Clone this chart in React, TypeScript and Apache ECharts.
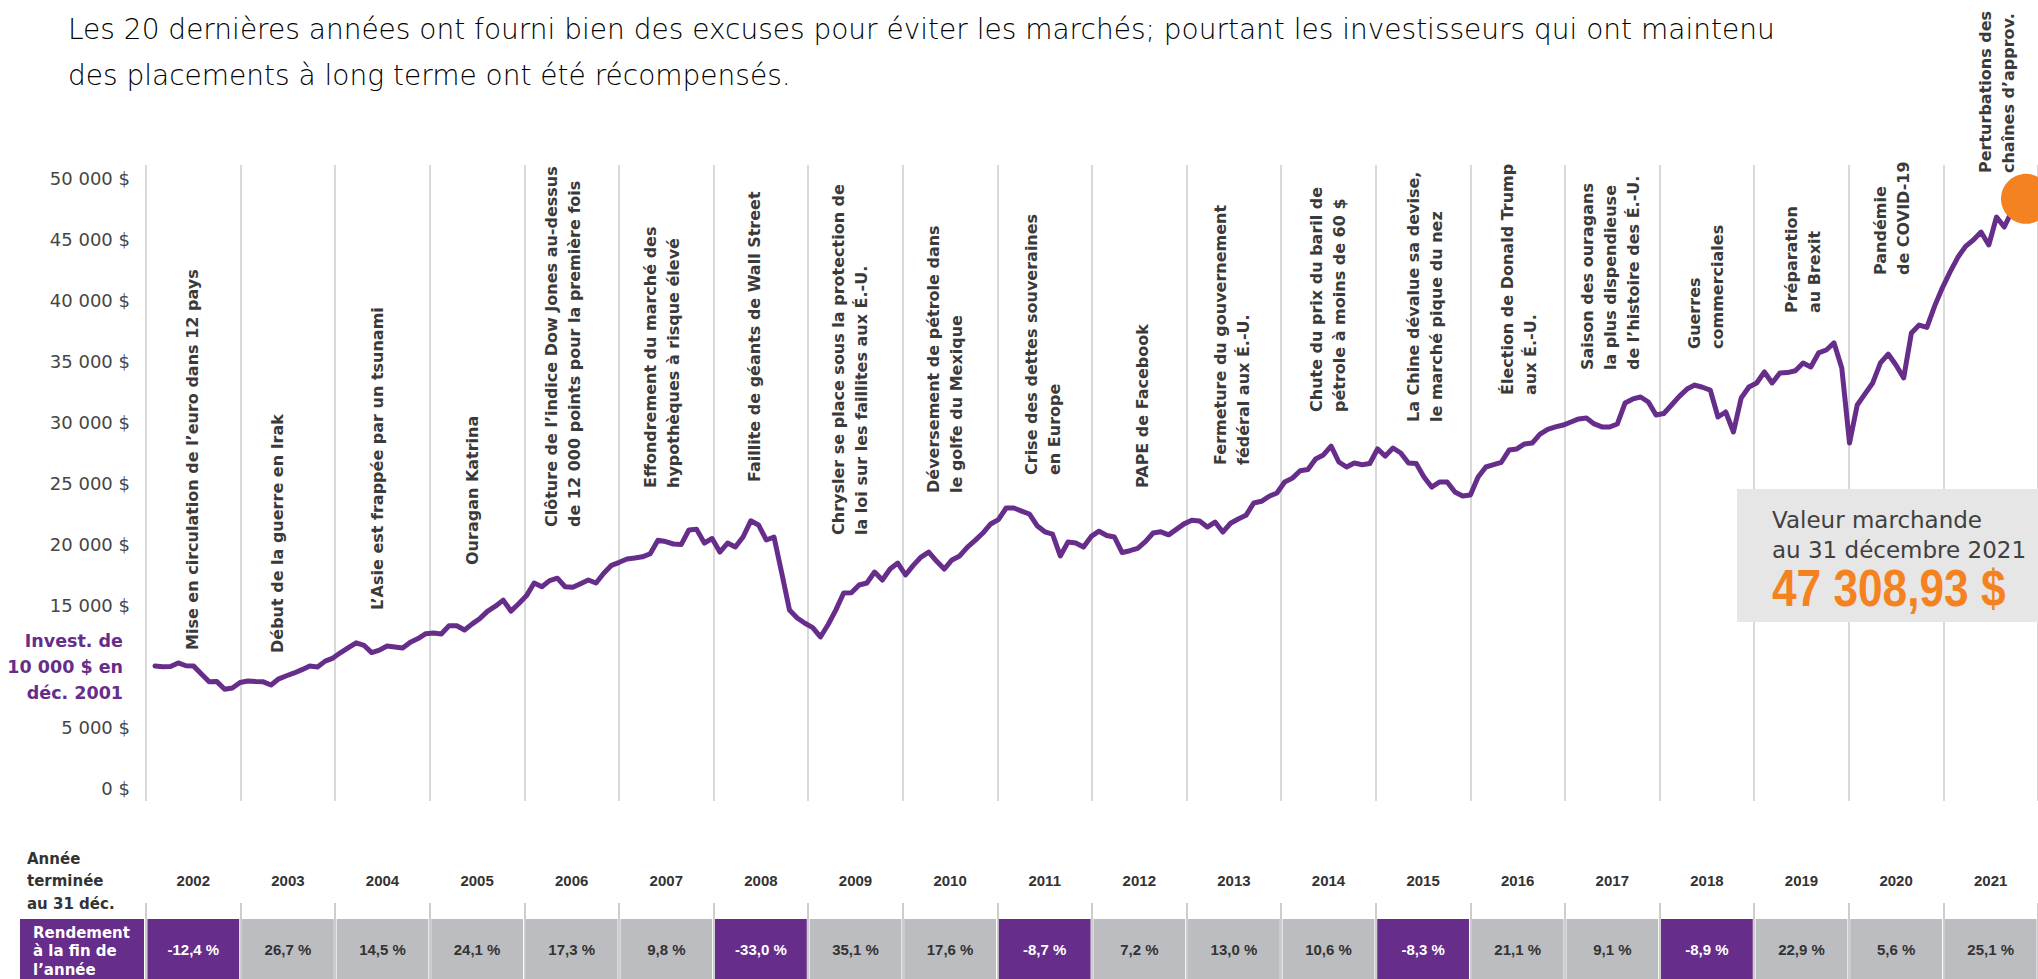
import React, { useEffect, useRef } from "react";
import * as echarts from "echarts";

// ---------- DATA ----------
const titleLines = [
  "Les 20 dernières années ont fourni bien des excuses pour éviter les marchés; pourtant les investisseurs qui ont maintenu",
  "des placements à long terme ont été récompensés.",
];

const years = [
  "2002", "2003", "2004", "2005", "2006", "2007", "2008", "2009", "2010", "2011",
  "2012", "2013", "2014", "2015", "2016", "2017", "2018", "2019", "2020", "2021",
];

const annualReturns = [
  -12.4, 26.7, 14.5, 24.1, 17.3, 9.8, -33.0, 35.1, 17.6, -8.7,
  7.2, 13.0, 10.6, -8.3, 21.1, 9.1, -8.9, 22.9, 5.6, 25.1,
];

const monthNames = ["janv.", "févr.", "mars", "avr.", "mai", "juin", "juil.", "août", "sept.", "oct.", "nov.", "déc."];

const startValue = 10000; // déc. 2001
const v2002 = [9930, 9950, 10250, 10020, 9990, 9350, 8700, 8720, 8100, 8200, 8650, 8770];
const v2003 = [8720, 8700, 8440, 8950, 9200, 9430, 9700, 10000, 9920, 10400, 10650, 11100];
const v2004 = [11500, 11900, 11700, 11100, 11300, 11640, 11550, 11470, 11950, 12250, 12650, 12700];
const v2005 = [12630, 13300, 13300, 12950, 13450, 13900, 14500, 14900, 15400, 14500, 15100, 15750];
const v2006 = [16800, 16500, 17000, 17200, 16500, 16450, 16750, 17050, 16800, 17600, 18250, 18500];
const v2007 = [18770, 18850, 18950, 19200, 20300, 20200, 20000, 19950, 21150, 21200, 20080, 20450];
const v2008 = [19340, 20080, 19750, 20570, 21900, 21560, 20330, 20570, 17620, 14590, 13930, 13500];
const v2009 = [13150, 12380, 13400, 14600, 15980, 16000, 16640, 16800, 17700, 17050, 17950, 18440];
const v2010 = [17460, 18250, 18930, 19340, 18600, 17950, 18690, 19020, 19750, 20300, 20900, 21640];
const v2011 = [22000, 22950, 22950, 22700, 22460, 21500, 21000, 20800, 19020, 20160, 20080, 19750];
const v2012 = [20620, 21050, 20700, 20570, 19300, 19450, 19650, 20200, 20900, 21000, 20750, 21200];
const v2013 = [21650, 21950, 21890, 21390, 21800, 20980, 21700, 22050, 22350, 23360, 23500, 23914];
const v2014 = [24180, 25080, 25400, 26000, 26100, 26970, 27300, 28030, 26720, 26310, 26640, 26500];
const v2015 = [26600, 27790, 27210, 27870, 27460, 26640, 26600, 25500, 24670, 25080, 25080, 24260];
const v2016 = [23930, 24020, 25490, 26310, 26500, 26700, 27700, 27790, 28200, 28280, 29000, 29400];
const v2017 = [29600, 29750, 30000, 30250, 30330, 29840, 29600, 29590, 29840, 31560, 31890, 32050];
const v2018 = [31640, 30570, 30700, 31390, 32100, 32700, 33030, 32850, 32620, 30410, 30820, 29180];
const v2019 = [31970, 32870, 33200, 34100, 33200, 34020, 34050, 34200, 34840, 34510, 35660, 35900];
const v2020 = [36480, 34430, 28280, 31390, 32300, 33200, 34840, 35570, 34670, 33610, 37300, 37950];
const v2021 = [37750, 39500, 41000, 42300, 43500, 44400, 44920, 45570, 44510, 46800, 45980, 47308.93];

const yTicks = [0, 5000, 10000, 15000, 20000, 25000, 30000, 35000, 40000, 45000, 50000];

const eventLabels: string[][] = [
  ["Mise en circulation de l’euro dans 12 pays"],
  ["Début de la guerre en Irak"],
  ["L’Asie est frappée par un tsunami"],
  ["Ouragan Katrina"],
  ["Clôture de l’indice Dow Jones au-dessus", "de 12 000 points pour la première fois"],
  ["Effondrement du marché des", "hypothèques à risque élevé"],
  ["Faillite de géants de Wall Street"],
  ["Chrysler se place sous la protection de", "la loi sur les faillites aux É.-U."],
  ["Déversement de pétrole dans", "le golfe du Mexique"],
  ["Crise des dettes souveraines", "en Europe"],
  ["PAPE de Facebook"],
  ["Fermeture du gouvernement", "fédéral aux É.-U."],
  ["Chute du prix du baril de", "pétrole à moins de 60 $"],
  ["La Chine dévalue sa devise,", "le marché pique du nez"],
  ["Élection de Donald Trump", "aux É.-U."],
  ["Saison des ouragans", "la plus dispendieuse", "de l’histoire des É.-U."],
  ["Guerres", "commerciales"],
  ["Préparation", "au Brexit"],
  ["Pandémie", "de COVID-19"],
  ["Perturbations des", "chaînes d’approv."],
];

// ---------- LAYOUT (positions / styles) ----------
const W = 2038;
const H = 979;
const PLOT_LEFT = 146;
const COL_W = (W - PLOT_LEFT) / years.length;
const eventBottoms = [650, 653, 610, 565, 527, 488, 482, 535, 493, 475, 488, 465, 412, 422, 395, 370, 349, 313, 275, 173];
const eventDx = [-1, -10, -5, -5, -9, -4, -6, -6, -5, -2, 3, -2, -1, 2, 1, -2, -1, 1, -4, 6];

const PURPLE = "#662d8a";
const GRAY_CELL = "#bcbdc0";
const ORANGE = "#f58220";
const GRID_LINE = "#cdcdcd";
const TEXT_DARK = "#3a3a3a";
const THIN_FONT = "'DejaVu Sans', sans-serif";
const BOLD_FONT = "'DejaVu Sans', Lato, sans-serif";
const NARROW_FONT = "'Liberation Sans Narrow', 'Arial Narrow', 'Liberation Sans', sans-serif";

function fmtThousands(v: number): string {
  if (v < 1000) return `${v} $`;
  const th = Math.floor(v / 1000);
  const rest = String(Math.round(v % 1000)).padStart(3, "0");
  return `${th} ${rest} $`;
}

function fmtPct(r: number): string {
  return `${r.toFixed(1).replace(".", ",")} %`;
}

function fmtMoney(v: number): string {
  const whole = Math.floor(v);
  const cents = String(Math.round((v - whole) * 100)).padStart(2, "0");
  return `${fmtThousands(whole).replace(" $", "")},${cents} $`;
}

export default function App() {
  const ref = useRef<HTMLDivElement>(null);

  useEffect(() => {
    if (!ref.current) return;
    const chart = echarts.init(ref.current, undefined, { renderer: "svg" });

    const monthly = [v2002, v2003, v2004, v2005, v2006, v2007, v2008, v2009, v2010, v2011,
      v2012, v2013, v2014, v2015, v2016, v2017, v2018, v2019, v2020, v2021];
    const categories = ["déc. 2001", ...years.flatMap((y) => monthNames.map((m) => `${m} ${y}`))];
    const values = [startValue, ...monthly.flat()];
    const lastIdx = values.length - 1;

    const graphics: any[] = [];
    titleLines.forEach((t, i) => {
      graphics.push({
        type: "text", x: 68, y: 29 + i * 46, z: 100,
        style: { text: t, font: `200 28px ${THIN_FONT}`, fill: "#000000", align: "left", verticalAlign: "middle" },
      });
    });

    eventLabels.forEach((lines, i) => {
      graphics.push({
        type: "text",
        x: PLOT_LEFT + (i + 0.5) * COL_W + eventDx[i],
        y: eventBottoms[i],
        rotation: Math.PI / 2,
        z: 100,
        style: {
          text: lines.join("\n"),
          font: `bold 16px ${BOLD_FONT}`,
          lineHeight: 23,
          fill: TEXT_DARK,
          align: "left",
          verticalAlign: "middle",
        },
      });
    });

    graphics.push({
      type: "text", x: 123, y: 667, z: 100,
      style: {
        text: "Invest. de\n10 000 $ en\ndéc. 2001",
        font: `bold 17.5px ${BOLD_FONT}`, lineHeight: 26, fill: PURPLE, align: "right", verticalAlign: "middle",
      },
    });

    graphics.push({
      type: "text", x: 27, y: 881, z: 100,
      style: {
        text: "Année\nterminée\nau 31 déc.",
        font: `bold 15px ${BOLD_FONT}`, lineHeight: 22.5, fill: "#333333", align: "left", verticalAlign: "middle",
      },
    });
    graphics.push({
      type: "rect", z: 90, shape: { x: 20, y: 919, width: 124, height: 60 }, style: { fill: PURPLE },
    });
    graphics.push({
      type: "text", x: 33, y: 951, z: 100,
      style: {
        text: "Rendement\nà la fin de\nl’année",
        font: `bold 15px ${BOLD_FONT}`, lineHeight: 18.5, fill: "#ffffff", align: "left", verticalAlign: "middle",
      },
    });

    graphics.push({
      type: "rect", z: 90, shape: { x: 1737, y: 489, width: W - 1737, height: 133 }, style: { fill: "#e6e6e6" },
    });
    graphics.push({
      type: "text", x: 1772, y: 535, z: 100,
      style: {
        text: "Valeur marchande\nau 31 décembre 2021",
        font: `23px ${THIN_FONT}`, lineHeight: 30, fill: "#404040", align: "left", verticalAlign: "middle",
      },
    });
    graphics.push({
      type: "text", x: 1772, y: 588, z: 100, scaleX: 0.85,
      style: {
        text: fmtMoney(values[lastIdx]),
        font: `bold 52px ${NARROW_FONT}`, fill: ORANGE, align: "left", verticalAlign: "middle",
      },
    });

    const option: any = {
      animation: false,
      backgroundColor: "#ffffff",
      grid: [
        { left: 155, right: 26, top: 178, bottom: H - 788 },
        { left: PLOT_LEFT, right: 0, top: 165, bottom: H - 801 },
        { left: PLOT_LEFT, right: 0, top: 917, bottom: 0 },
      ],
      xAxis: [
        { type: "category", gridIndex: 0, data: categories, boundaryGap: false, show: false },
        {
          type: "value", gridIndex: 1, min: 0, max: years.length, interval: 1,
          axisLabel: { show: false }, axisLine: { show: false }, axisTick: { show: false },
          splitLine: { show: true, lineStyle: { color: GRID_LINE, width: 1.5 } },
        },
        {
          type: "category", gridIndex: 2, data: years, position: "top",
          axisLine: { show: false },
          axisTick: { show: true, length: 76, interval: 0, lineStyle: { color: GRID_LINE, width: 2 } },
          axisLabel: {
            interval: 0, margin: 37, verticalAlign: "middle",
            fontFamily: NARROW_FONT, fontWeight: "bold", fontSize: 15, color: "#333333",
          },
        },
      ],
      yAxis: [
        {
          type: "value", gridIndex: 0, min: yTicks[0], max: yTicks[yTicks.length - 1], interval: yTicks[1] - yTicks[0],
          axisLine: { show: false }, axisTick: { show: false }, splitLine: { show: false },
          axisLabel: {
            margin: 25, fontFamily: THIN_FONT, fontSize: 18, color: "#464646",
            formatter: (v: number) => (v === startValue ? "" : fmtThousands(v)),
          },
        },
        { type: "value", gridIndex: 1, min: 0, max: 1, show: false },
        { type: "value", gridIndex: 2, min: 0, max: 62, show: false },
      ],
      series: [
        {
          type: "line", xAxisIndex: 0, yAxisIndex: 0, data: values, symbol: "none", z: 3,
          lineStyle: { color: PURPLE, width: 5, join: "round", cap: "round" },
        },
        {
          type: "scatter", xAxisIndex: 0, yAxisIndex: 0, z: 5,
          data: [[lastIdx, values[lastIdx]]], symbolSize: 50, symbolOffset: [14, -12],
          itemStyle: { color: ORANGE, opacity: 1 },
        },
        {
          type: "bar", xAxisIndex: 2, yAxisIndex: 2, barCategoryGap: "3%",
          data: annualReturns.map((r) => ({
            value: 60,
            itemStyle: { color: r < 0 ? PURPLE : GRAY_CELL },
            label: { color: r < 0 ? "#ffffff" : "#333333" },
          })),
          label: {
            show: true, position: "inside",
            fontFamily: NARROW_FONT, fontWeight: "bold", fontSize: 15,
            formatter: (p: any) => fmtPct(annualReturns[p.dataIndex]),
          },
        },
      ],
      graphic: graphics,
    };

    chart.setOption(option);
    return () => chart.dispose();
  }, []);

  return (
    <div
      ref={ref}
      style={{ position: "fixed", left: 0, top: 0, width: W, height: H, background: "#fff" }}
    />
  );
}
